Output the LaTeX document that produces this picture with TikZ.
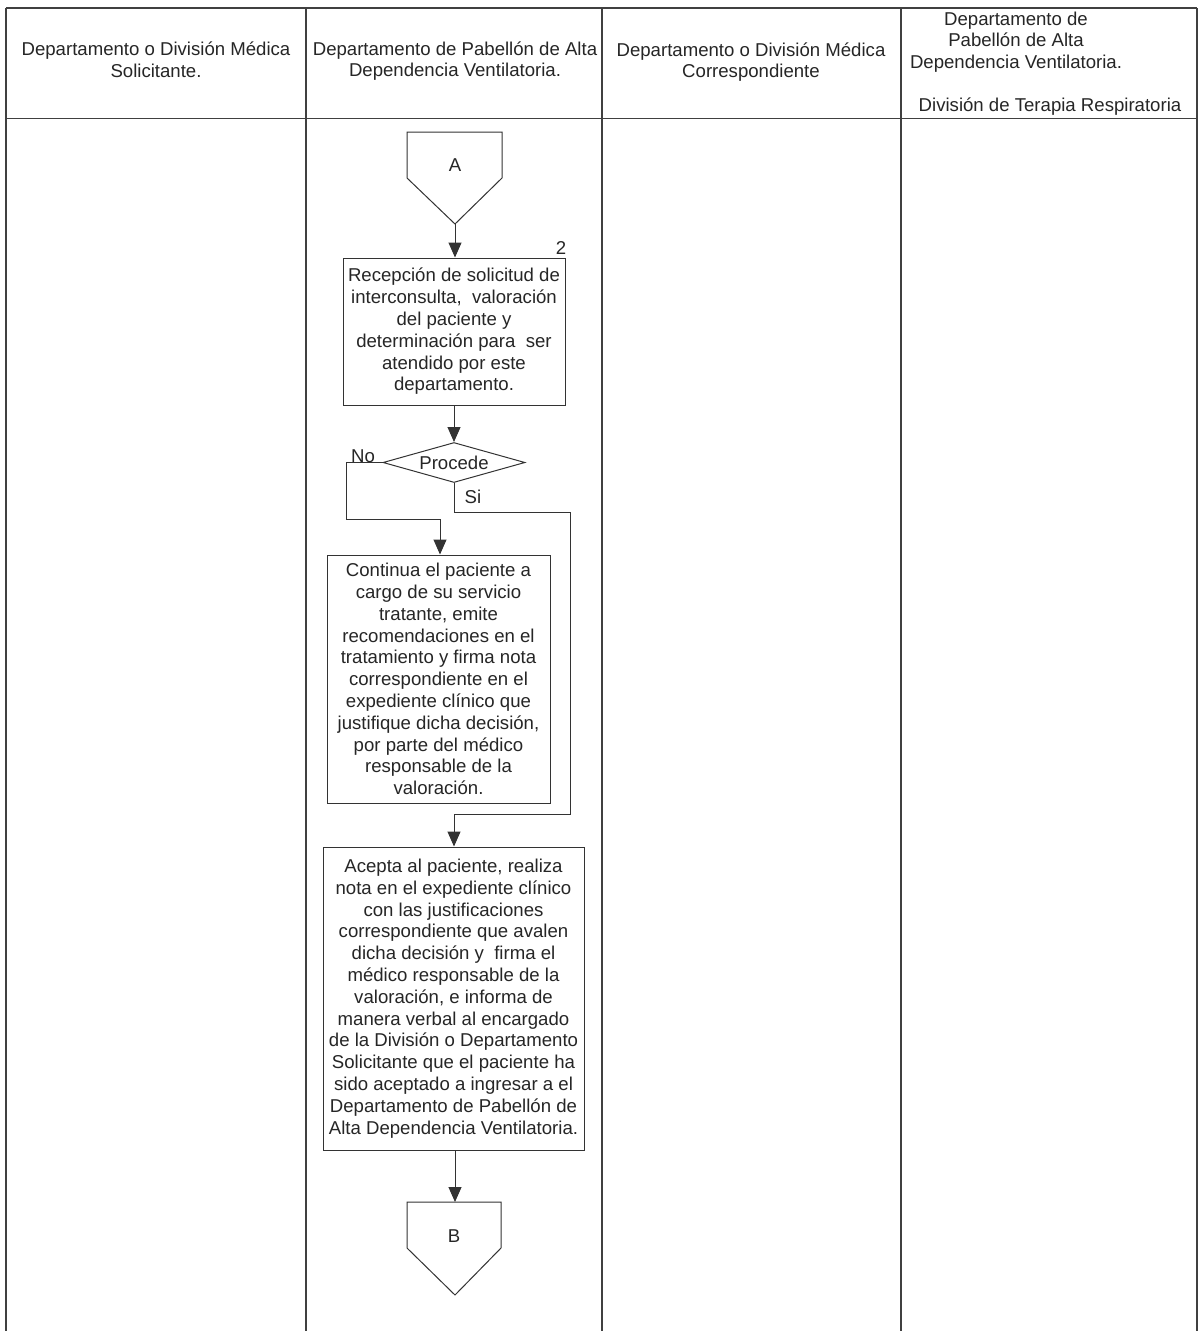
\documentclass[tikz,border=0pt]{standalone}
\usepackage{fontspec}
\setmainfont{Liberation Sans}
\usetikzlibrary{shapes.geometric,arrows.meta}
\begin{document}
\begin{tikzpicture}[x=1pt,y=-1pt,
  every node/.style={font=\fontsize{18.6}{21.8}\selectfont, text=black!85},
  line/.style={draw=black!80, line width=1pt},
  tbl/.style={draw=black!75, line width=1.1pt},
  proc/.style={draw=black!80, line width=1pt, align=center, inner sep=0pt},
  arr/.style={line, -{Triangle[width=13pt,length=15pt]}},
  hdr/.style={align=center, inner sep=0pt}]
\useasboundingbox (0,0) rectangle (1199,1331);
\fill[white] (0,0) rectangle (1199,1331);
% table
\draw[tbl] (6,8) -- (1197,8);
\draw[tbl, line width=1.8pt] (6,118.5) -- (1197,118.5);
\foreach \x in {6,306,602,901,1197} \draw[tbl] (\x,8) -- (\x,1331);
% headers
\node[hdr] (h1) at (156,60) {Departamento o División Médica\\Solicitante.};
\node[hdr] (h2) at (455,61) {Departamento de Pabellón de Alta\\Dependencia Ventilatoria.};
\node[hdr] (h3) at (751,62) {Departamento o División Médica\\Correspondiente};
\node[hdr] (h4) at (1016,42) {Departamento de\\Pabellón de Alta\\Dependencia Ventilatoria.};
\node[hdr] (h5) at (1050,107) {División de Terapia Respiratoria};
% connector A
\draw[line] (407,132) -- (502,132) -- (502,178) -- (455,224) -- (407,178) -- cycle;
\node (A) at (455,165) {A};
\coordinate (Atip) at (455,224);
% box 1
\node[proc, minimum width=222pt, minimum height=147pt] (b1) at (454,331.5)
 {Recepción de solicitud de\\interconsulta,\ \ valoración\\del paciente y\\determinación para\ \ ser\\atendido por este\\departamento.};
\node (n2) at (561,248) {2};
% diamond
\node[diamond, line, aspect=3.55, minimum width=142pt, minimum height=40pt, inner sep=0pt] (d) at (454,462.5) {Procede};
\node (no) at (363,456) {No};
\node (si) at (473,497) {Si};
% box 2
\node[proc, minimum width=223pt, minimum height=248pt] (b2) at (438.5,679)
 {Continua el paciente a\\cargo de su servicio\\tratante, emite\\recomendaciones en el\\tratamiento y firma nota\\correspondiente en el\\expediente clínico que\\justifique dicha decisión,\\por parte del médico\\responsable de la\\valoración.};
% box 3
\node[proc, minimum width=261pt, minimum height=303pt] (b3) at (453.5,998.5)
 {Acepta al paciente, realiza\\nota en el expediente clínico\\con las justificaciones\\correspondiente que avalen\\dicha decisión y\ \ firma el\\médico responsable de la\\valoración, e informa de\\manera verbal al encargado\\de la División o Departamento\\Solicitante que el paciente ha\\sido aceptado a ingresar a el\\Departamento de Pabellón de\\Alta Dependencia Ventilatoria.};
% connector B
\draw[line] (407,1202) -- (501,1202) -- (501,1248) -- (455,1295) -- (407,1248) -- cycle;
\node (B) at (454,1236) {B};
\coordinate (Btop) at (455,1202);
% connectors
\draw[arr] (Atip) -- (b1.north -| Atip);
\draw[arr] (b1.south -| d.north) -- (d.north);
\draw[arr] (d.west) -- (346,462.5) -- (346,519) -- (440,519) -- (b2.north -| 440,0);
\draw[arr] (d.south) -- (454,512) -- (570,512) -- (570,814) -- (454,814) -- (b3.north -| 454,0);
\draw[arr] (b3.south -| Btop) -- (Btop);
\end{tikzpicture}
\end{document}
